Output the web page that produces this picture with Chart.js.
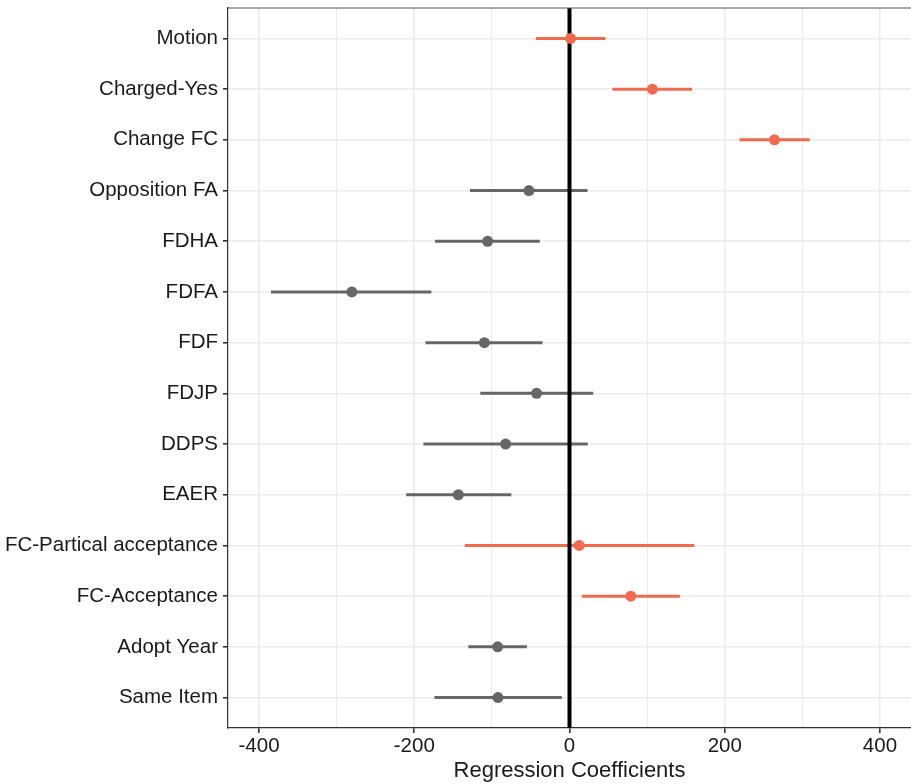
<!DOCTYPE html>
<html>
<head>
<meta charset="utf-8">
<script src="https://cdn.jsdelivr.net/npm/chart.js@4"></script>
<style>
  html, body { margin: 0; padding: 0; background: #ffffff; }
  #wrap { width: 911px; height: 784px; position: relative; }
</style>
</head>
<body>
<div id="wrap"><canvas id="c" width="911" height="784"></canvas></div>
<script>
const categories = ['Motion','Charged-Yes','Change FC','Opposition FA','FDHA','FDFA','FDF','FDJP','DDPS','EAER','FC-Partical acceptance','FC-Acceptance','Adopt Year','Same Item'];
const estimates = [1.3, 106.8, 264, -52.3, -105.5, -280.4, -109.7, -42.4, -82.3, -143.2, 12.4, 78.9, -92.6, -92.2];
const lower = [-43.3, 55.3, 219, -128.2, -173.2, -384.6, -185.6, -114.9, -188.2, -210.5, -135, 15.9, -130.3, -174];
const upper = [46.3, 158, 309.6, 23.2, -38.2, -177.9, -34.7, 30.5, 23.6, -75, 160.8, 142.3, -54.9, -9.9];
const significant = [true, true, true, false, false, false, false, false, false, false, true, true, false, false];
const xTickValues = [-400, -300, -200, -100, 0, 100, 200, 300, 400];
const xLabelValues = [-400, -200, 0, 200, 400];
const xTitle = 'Regression Coefficients';

const ORANGE = '#EF6A4F';
const GREY = '#666666';
const TEXT = '#1A1A1A';

// points may overflow the panel edge like in ggplot; do not reserve layout room for them
['scatter', 'line'].forEach(t => {
  const C = Chart.registry.getController(t);
  if (C) C.prototype.getMaxOverflow = function () { return 0; };
});

function intervals(flag) {
  const out = [];
  categories.forEach((c, i) => {
    if (significant[i] === flag) {
      out.push({x: lower[i], y: i});
      out.push({x: upper[i], y: i});
      out.push({x: null, y: null});
    }
  });
  return out;
}
function points(flag) {
  const out = [];
  categories.forEach((c, i) => {
    if (significant[i] === flag) out.push({x: estimates[i], y: i});
  });
  return out;
}

const panelTop = {
  id: 'panelTop',
  afterDraw(chart) {
    const {ctx, chartArea: a} = chart;
    ctx.save();
    ctx.strokeStyle = '#555555';
    ctx.lineWidth = 1.2;
    ctx.beginPath();
    ctx.moveTo(a.left, a.top);
    ctx.lineTo(a.right, a.top);
    ctx.stroke();
    ctx.restore();
  }
};

new Chart(document.getElementById('c'), {
  type: 'scatter',
  data: {
    datasets: [
      { type: 'scatter', data: points(true), backgroundColor: ORANGE, borderColor: ORANGE, pointRadius: 5.5, pointBorderWidth: 0, order: 0 },
      { type: 'scatter', data: points(false), backgroundColor: GREY, borderColor: GREY, pointRadius: 5.5, pointBorderWidth: 0, order: 0 },
      { type: 'line', data: [{x: 0, y: -0.6}, {x: 0, y: categories.length - 0.4}], borderColor: '#000000', borderWidth: 4, pointRadius: 0, order: 1 },
      { type: 'line', data: intervals(true), borderColor: ORANGE, borderWidth: 3, pointRadius: 0, spanGaps: false, order: 2 },
      { type: 'line', data: intervals(false), borderColor: GREY, borderWidth: 3, pointRadius: 0, spanGaps: false, order: 2 }
    ]
  },
  options: {
    responsive: false,
    animation: false,
    events: [],
    layout: { padding: { top: 8, right: 0, left: 0, bottom: 0 } },
    plugins: { legend: { display: false }, tooltip: { enabled: false } },
    scales: {
      x: {
        type: 'linear',
        min: -440,
        max: 440,
        afterBuildTicks(scale) { scale.ticks = xTickValues.map(v => ({value: v})); },
        afterFit(scale) { scale.height = 56; scale.paddingLeft = 0; scale.paddingRight = 0; },
        ticks: {
          callback: v => xLabelValues.includes(v) ? String(v) : '',
          font: { family: 'Liberation Sans', size: 20.5 },
          color: TEXT,
          padding: 1,
          maxRotation: 0,
          autoSkip: false
        },
        grid: {
          color: '#EBEBEB',
          lineWidth: ctx => xLabelValues.includes(ctx.tick && ctx.tick.value) ? 1.6 : 1,
          tickColor: ctx => xLabelValues.includes(ctx.tick && ctx.tick.value) ? '#333333' : 'rgba(0,0,0,0)',
          tickLength: 5,
          drawTicks: true
        },
        border: { display: true, color: '#333333', width: 1.2 },
        title: {
          display: true,
          text: xTitle,
          font: { family: 'Liberation Sans', size: 22 },
          color: TEXT,
          padding: { top: 0, bottom: 0 }
        }
      },
      y: {
        type: 'linear',
        reverse: true,
        min: -0.6,
        max: categories.length - 0.4,
        afterBuildTicks(scale) { scale.ticks = categories.map((c, i) => ({value: i})); },
        afterFit(scale) { scale.width = 228; scale.paddingTop = 0; scale.paddingBottom = 0; },
        ticks: {
          callback: v => categories[v] !== undefined ? categories[v] : '',
          font: { family: 'Liberation Sans', size: 20.5 },
          color: TEXT,
          padding: 5,
          autoSkip: false
        },
        grid: {
          color: '#EBEBEB',
          lineWidth: 1.6,
          tickColor: '#333333',
          tickLength: 5
        },
        border: { display: true, color: '#333333', width: 1.2 }
      }
    }
  },
  plugins: [panelTop]
});
</script>
</body>
</html>
